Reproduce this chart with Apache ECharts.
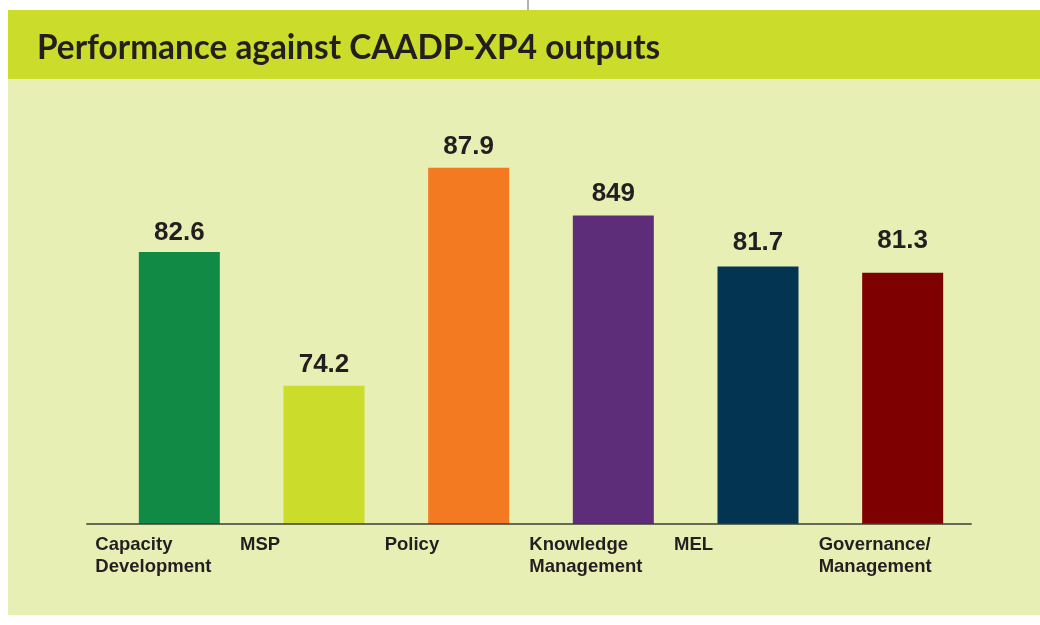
<!DOCTYPE html>
<html>
<head>
<meta charset="utf-8">
<script src="https://cdn.jsdelivr.net/npm/echarts@6/dist/echarts.min.js"></script>
<style>
  html, body { margin: 0; padding: 0; background: #ffffff; }
  #chart { width: 1040px; height: 625px; }
</style>
</head>
<body>
<div id="chart"></div>
<script>
// chart data
var categories = ['Capacity\nDevelopment', 'MSP', 'Policy', 'Knowledge\nManagement', 'MEL', 'Governance/\nManagement'];
var scores = [82.6, 74.2, 87.9, 84.9, 81.7, 81.3];
var scoreLabels = ['82.6', '74.2', '87.9', '849', '81.7', '81.3'];
var barColors = ['#118a45', '#ccdc2a', '#f47a22', '#5e2d79', '#033552', '#7f0000'];
var labelGaps = [6, 8, 8, 9, 11, 19];

var textColor = '#231f20';
var font = '"Liberation Sans", Arial, sans-serif';

var chart = echarts.init(document.getElementById('chart'));

var option = {
    animation: false,
    backgroundColor: 'transparent',
    graphic: [
        { type: 'rect', z: -10, shape: { x: 8, y: 10, width: 1032, height: 605 }, style: { fill: '#e8efb4' } },
        { type: 'rect', z: -9, shape: { x: 8, y: 10, width: 1032, height: 69 }, style: { fill: '#ccdc2a' } },
        { type: 'line', z: -9, shape: { x1: 528, y1: 0, x2: 528, y2: 10 }, style: { stroke: '#666666', lineWidth: 1 } },
        {
            type: 'text',
            x: 37,
            y: 48,
            scaleX: 0.98,
            originX: 0,
            style: {
                text: 'Performance against CAADP-XP4 outputs',
                font: 'bold 34px Lato, "Open Sans", sans-serif',
                fill: textColor,
                align: 'left',
                verticalAlign: 'middle'
            }
        }
    ],
    grid: [
        { left: 107, right: 65, top: 102.6, bottom: 101 },
        { left: 87, right: 69, top: 102.6, bottom: 101 }
    ],
    xAxis: [
        {
            type: 'category',
            gridIndex: 0,
            data: categories,
            axisLine: { show: false },
            axisTick: { show: false },
            axisLabel: {
                interval: 0,
                align: 'left',
                verticalAlign: 'top',
                margin: 10,
                padding: [0, 0, 0, -84],
                fontFamily: font,
                fontWeight: 'bold',
                fontSize: 18.5,
                lineHeight: 22,
                color: textColor
            }
        },
        {
            type: 'category',
            gridIndex: 1,
            data: categories,
            z: 5,
            axisLine: { lineStyle: { color: 'rgba(60,60,50,0.75)', width: 2 } },
            axisTick: { show: false },
            axisLabel: { show: false }
        }
    ],
    yAxis: [
        { type: 'value', gridIndex: 0, min: 65.5, max: 92, show: false, splitLine: { show: false } },
        { type: 'value', gridIndex: 1, min: 0, max: 1, show: false, splitLine: { show: false } }
    ],
    series: [{
        type: 'bar',
        xAxisIndex: 0,
        yAxisIndex: 0,
        barWidth: 81,
        data: scores.map(function (v, i) {
            return {
                value: v,
                itemStyle: { color: barColors[i] },
                label: { distance: labelGaps[i] }
            };
        }),
        label: {
            show: true,
            position: 'top',
            formatter: function (p) { return scoreLabels[p.dataIndex]; },
            fontFamily: font,
            fontWeight: 'bold',
            fontSize: 26,
            lineHeight: 26,
            color: textColor
        }
    }]
};

chart.setOption(option);
</script>
</body>
</html>
